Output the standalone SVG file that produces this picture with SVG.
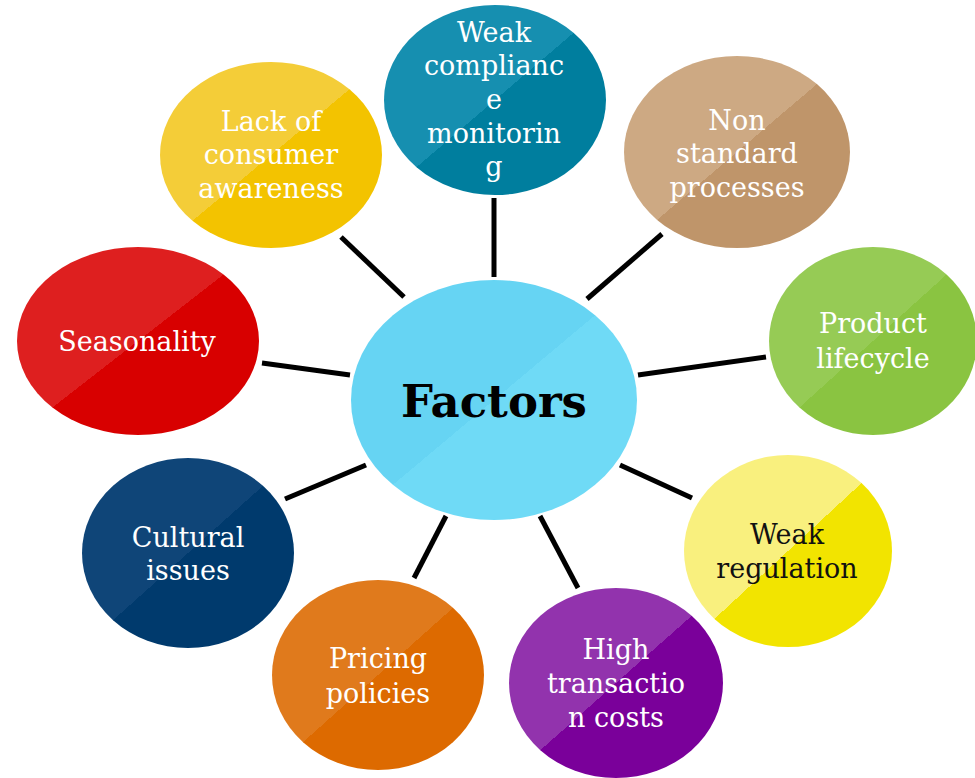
<svg xmlns="http://www.w3.org/2000/svg" width="975" height="778" viewBox="0 0 975 778">
  <style>
    .spoke { stroke: #000; stroke-width: 5; stroke-linecap: butt; }
    .lbl { font-family: "DejaVu Serif", "Liberation Serif", serif; font-size: 27px; text-anchor: middle; fill: #ffffff; }
    .dark { fill: #111111; }
    .hub { font-family: "DejaVu Serif", "Liberation Serif", serif; font-size: 45px; font-weight: bold; text-anchor: middle; fill: #000; }
  </style>
  <defs>
    <!-- two-tone diagonal fills: lighter upper-left half, deeper lower-right half -->
    <linearGradient id="gHub" x1="0" y1="0" x2="1" y2="1">
      <stop offset="0.5" stop-color="#66d4f3"/><stop offset="0.5" stop-color="#6fdaf6"/>
    </linearGradient>
    <linearGradient id="gTeal" x1="0" y1="0" x2="1" y2="1">
      <stop offset="0.5" stop-color="#168fb0"/><stop offset="0.5" stop-color="#007e9e"/>
    </linearGradient>
    <linearGradient id="gGold" x1="0" y1="0" x2="1" y2="1">
      <stop offset="0.5" stop-color="#f4cd38"/><stop offset="0.5" stop-color="#f3c300"/>
    </linearGradient>
    <linearGradient id="gTan" x1="0" y1="0" x2="1" y2="1">
      <stop offset="0.5" stop-color="#cda983"/><stop offset="0.5" stop-color="#bf956a"/>
    </linearGradient>
    <linearGradient id="gRed" x1="0" y1="0" x2="1" y2="1">
      <stop offset="0.5" stop-color="#de1f1f"/><stop offset="0.5" stop-color="#d80000"/>
    </linearGradient>
    <linearGradient id="gGreen" x1="0" y1="0" x2="1" y2="1">
      <stop offset="0.5" stop-color="#96cb55"/><stop offset="0.5" stop-color="#8ac441"/>
    </linearGradient>
    <linearGradient id="gNavy" x1="0" y1="0" x2="1" y2="1">
      <stop offset="0.5" stop-color="#0f4578"/><stop offset="0.5" stop-color="#003a6d"/>
    </linearGradient>
    <linearGradient id="gYellow" x1="0" y1="0" x2="1" y2="1">
      <stop offset="0.5" stop-color="#f9f07e"/><stop offset="0.5" stop-color="#f2e400"/>
    </linearGradient>
    <linearGradient id="gOrange" x1="0" y1="0" x2="1" y2="1">
      <stop offset="0.5" stop-color="#e07a1c"/><stop offset="0.5" stop-color="#dd6a00"/>
    </linearGradient>
    <linearGradient id="gPurple" x1="0" y1="0" x2="1" y2="1">
      <stop offset="0.5" stop-color="#9233ad"/><stop offset="0.5" stop-color="#7a009a"/>
    </linearGradient>
  </defs>

  <rect width="975" height="778" fill="#ffffff"/>

  <!-- spokes from the hub to each factor -->
  <g id="connectors">
    <line class="spoke" x1="494" y1="198" x2="494" y2="277"/>
    <line class="spoke" x1="341" y1="237" x2="404" y2="297"/>
    <line class="spoke" x1="662" y1="234" x2="587" y2="299"/>
    <line class="spoke" x1="262" y1="363" x2="350" y2="375"/>
    <line class="spoke" x1="638" y1="375" x2="766" y2="357"/>
    <line class="spoke" x1="285" y1="499" x2="366" y2="465"/>
    <line class="spoke" x1="620" y1="465" x2="692" y2="498"/>
    <line class="spoke" x1="446" y1="516" x2="414" y2="578"/>
    <line class="spoke" x1="540" y1="516" x2="578" y2="588"/>
  </g>

  <g id="hub">
    <ellipse cx="494" cy="400" rx="143" ry="120" fill="url(#gHub)"/>
    <text class="hub" x="494" y="417">Factors</text>
  </g>

  <g id="weak-compliance">
    <ellipse cx="495" cy="100" rx="111" ry="95" fill="url(#gTeal)"/>
    <text class="lbl" x="494" y="42">Weak</text>
    <text class="lbl" x="494" y="75">complianc</text>
    <text class="lbl" x="494" y="109">e</text>
    <text class="lbl" x="494" y="143">monitorin</text>
    <text class="lbl" x="494" y="176">g</text>
  </g>

  <g id="consumer-awareness">
    <ellipse cx="271" cy="155" rx="111" ry="93" fill="url(#gGold)"/>
    <text class="lbl" x="271" y="131">Lack of</text>
    <text class="lbl" x="271" y="164">consumer</text>
    <text class="lbl" x="271" y="198">awareness</text>
  </g>

  <g id="non-standard">
    <ellipse cx="737" cy="152" rx="113" ry="96" fill="url(#gTan)"/>
    <text class="lbl" x="737" y="130">Non</text>
    <text class="lbl" x="737" y="163">standard</text>
    <text class="lbl" x="737" y="197">processes</text>
  </g>

  <g id="seasonality">
    <ellipse cx="138" cy="341" rx="121" ry="94" fill="url(#gRed)"/>
    <text class="lbl" x="137" y="351">Seasonality</text>
  </g>

  <g id="product-lifecycle">
    <ellipse cx="873" cy="341" rx="104" ry="94" fill="url(#gGreen)"/>
    <text class="lbl" x="873" y="333">Product</text>
    <text class="lbl" x="873" y="368">lifecycle</text>
  </g>

  <g id="cultural-issues">
    <ellipse cx="188" cy="553" rx="106" ry="95" fill="url(#gNavy)"/>
    <text class="lbl" x="188" y="547">Cultural</text>
    <text class="lbl" x="188" y="580">issues</text>
  </g>

  <g id="weak-regulation">
    <ellipse cx="788" cy="551" rx="104" ry="96" fill="url(#gYellow)"/>
    <text class="lbl dark" x="787" y="544">Weak</text>
    <text class="lbl dark" x="787" y="578">regulation</text>
  </g>

  <g id="pricing-policies">
    <ellipse cx="378" cy="675" rx="106" ry="95" fill="url(#gOrange)"/>
    <text class="lbl" x="378" y="668">Pricing</text>
    <text class="lbl" x="378" y="703">policies</text>
  </g>

  <g id="transaction-costs">
    <ellipse cx="616" cy="683" rx="107" ry="95" fill="url(#gPurple)"/>
    <text class="lbl" x="616" y="659">High</text>
    <text class="lbl" x="616" y="693">transactio</text>
    <text class="lbl" x="616" y="727">n costs</text>
  </g>
</svg>
